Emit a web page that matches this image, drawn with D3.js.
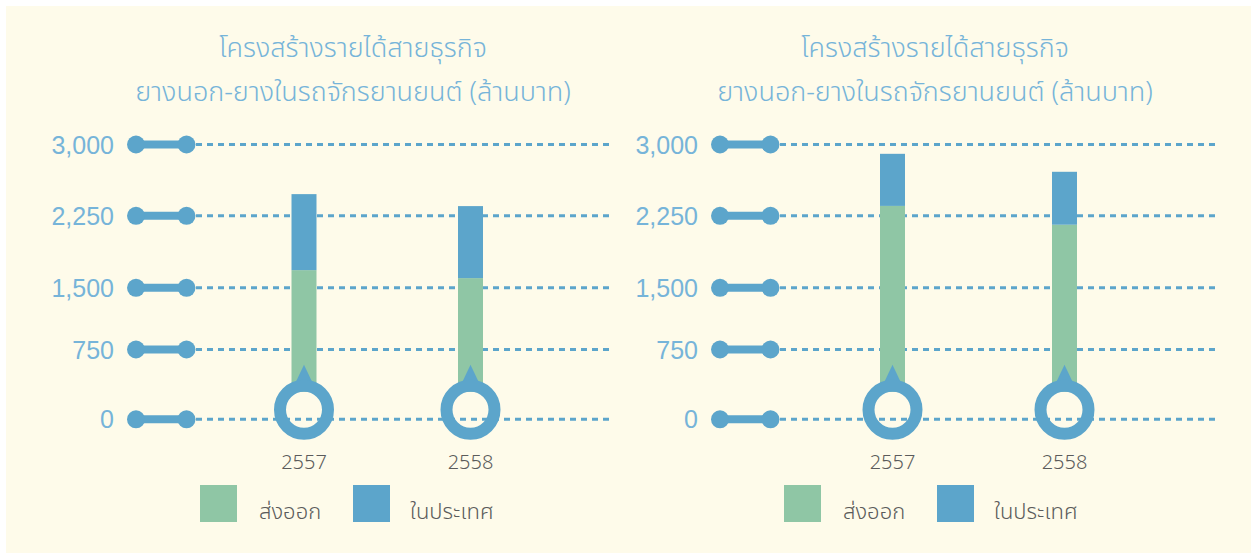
<!DOCTYPE html>
<html>
<head>
<meta charset="utf-8">
<script src="https://cdn.jsdelivr.net/npm/d3@7"></script>
<style>
  html, body { margin: 0; padding: 0; background: #ffffff; }
  svg { display: block; }
  .thai { font-family: "Noto Sans Thai", "Noto Sans Thai UI", "Noto Sans", "DejaVu Sans", sans-serif; }
  .num { font-family: "Liberation Sans", Arial, sans-serif; }
</style>
</head>
<body>
<svg width="1251" height="553"></svg>
<script>
// data (million baht)
var years = ["2557", "2558"];
var exportLeft = [1684, 1601];
var domesticLeft = [794, 751];
var exportRight = [2354, 2157];
var domesticRight = [548, 556];
var tickValues = [0, 750, 1500, 2250, 3000];
var titleLines = ["โครงสร้างรายได้สายธุรกิจ", "ยางนอก-ยางในรถจักรยานยนต์ (ล้านบาท)"];
var legendLabels = ["ส่งออก", "ในประเทศ"];

var green = "#8fc6a5",
    blue = "#5ca5cb",
    tickColor = "#76b4d9",
    cream = "#fefbea";

var svg = d3.select("svg"),
    width = +svg.attr("width"),
    height = +svg.attr("height");

svg.append("rect")
    .attr("x", 6).attr("y", 6)
    .attr("width", width - 6).attr("height", height - 6)
    .attr("fill", cream);

// gridlines in the original are not quite evenly spaced, so map tick by tick
var y = d3.scaleLinear()
    .domain(tickValues)
    .range([419.3, 349.5, 287.8, 215.8, 144.5]);

var panels = [
    { dx: 0, xr: [304, 470.5], exp: exportLeft, dom: domesticLeft, cx: 353 },
    { dx: 584, xr: [892.5, 1064.5], exp: exportRight, dom: domesticRight, cx: 935 }
];

panels.forEach(function(p)
{
    var g = svg.append("g");
    var x = d3.scalePoint().domain(years).range(p.xr);

    // title
    g.selectAll("text.title")
        .data(titleLines)
        .enter().append("text")
        .attr("class", "title thai")
        .attr("x", p.cx)
        .attr("y", function(d, i) { return 57 + i * 44; })
        .attr("text-anchor", "middle")
        .attr("font-size", 27)
        .attr("font-weight", 300)
        .attr("fill", tickColor)
        .text(function(d) { return d; });

    // y axis: labels + dumbbells + dashed gridlines
    var tick = g.selectAll("g.tick")
        .data(tickValues)
        .enter().append("g")
        .attr("class", "tick")
        .attr("transform", function(d) { return "translate(0," + y(d) + ")"; });

    tick.append("line")
        .attr("x1", 196 + p.dx).attr("x2", 614 + p.dx + (p.dx ? 20 : 0))
        .attr("stroke", blue)
        .attr("stroke-width", 3)
        .attr("stroke-dasharray", "6,5");

    tick.append("line")
        .attr("x1", 136 + p.dx).attr("x2", 186.5 + p.dx)
        .attr("stroke", blue)
        .attr("stroke-width", 8);
    tick.append("circle").attr("cx", 136 + p.dx).attr("r", 9).attr("fill", blue);
    tick.append("circle").attr("cx", 186.5 + p.dx).attr("r", 9).attr("fill", blue);

    tick.append("text")
        .attr("class", "num")
        .attr("x", 114 + p.dx)
        .attr("dy", "0.36em")
        .attr("text-anchor", "end")
        .attr("font-size", 25)
        .attr("fill", tickColor)
        .text(d3.format(","));

    // stacked bars
    var ringY = y(0) - 9.5,
        ringR = 24,
        barW = 25;

    var bars = g.selectAll("g.bar")
        .data(years)
        .enter().append("g")
        .attr("class", "bar")
        .attr("transform", function(d) { return "translate(" + x(d) + ",0)"; });

    bars.append("rect")
        .attr("x", -barW / 2)
        .attr("width", barW)
        .attr("y", function(d, i) { return y(p.exp[i]); })
        .attr("height", function(d, i) { return ringY - 18 - y(p.exp[i]); })
        .attr("fill", green);

    bars.append("rect")
        .attr("x", -barW / 2)
        .attr("width", barW)
        .attr("y", function(d, i) { return y(p.exp[i] + p.dom[i]); })
        .attr("height", function(d, i) { return y(p.exp[i]) - y(p.exp[i] + p.dom[i]); })
        .attr("fill", blue);

    // bulb: pointer + ring
    bars.append("path")
        .attr("d", "M0," + (ringY - 45) + " L-9," + (ringY - 26) + " L9," + (ringY - 26) + " Z")
        .attr("fill", blue);
    bars.append("circle")
        .attr("cy", ringY)
        .attr("r", ringR)
        .attr("fill", "none")
        .attr("stroke", blue)
        .attr("stroke-width", 12);

    bars.append("text")
        .attr("class", "thai")
        .attr("y", 469)
        .attr("text-anchor", "middle")
        .attr("font-size", 20)
        .attr("font-weight", 300)
        .attr("fill", "#5b5b5b")
        .text(function(d) { return d; });

    // legend
    var leg = g.selectAll("g.legend")
        .data(legendLabels)
        .enter().append("g")
        .attr("class", "legend")
        .attr("transform", function(d, i) { return "translate(" + (200 + p.dx + i * 153) + ",485)"; });
    leg.append("rect")
        .attr("width", 37).attr("height", 37)
        .attr("fill", function(d, i) { return i === 0 ? green : blue; });
    leg.append("text")
        .attr("class", "thai")
        .attr("x", function(d, i) { return i === 0 ? 59 : 57; })
        .attr("y", 34)
        .attr("font-size", 22)
        .attr("font-weight", 300)
        .attr("fill", "#5b5b5b")
        .text(function(d) { return d; });
});
</script>
</body>
</html>
